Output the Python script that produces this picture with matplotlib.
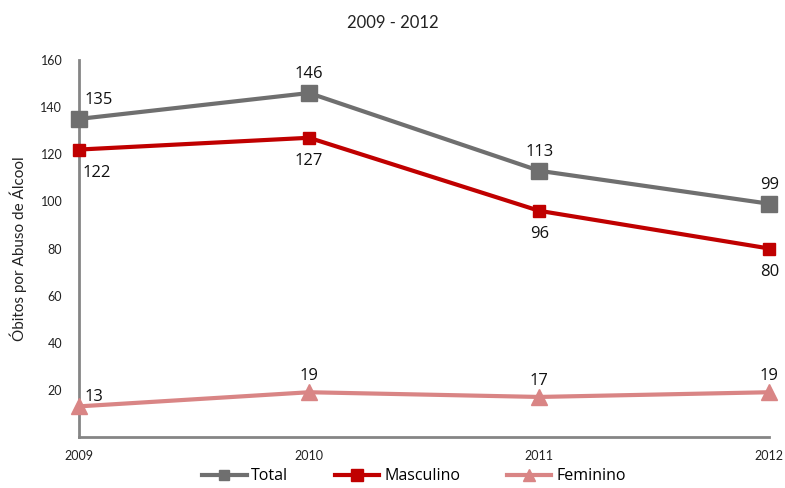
import matplotlib
matplotlib.use("Agg")
import matplotlib.pyplot as plt

years = [2009, 2010, 2011, 2012]
total = [135, 146, 113, 99]
masculino = [122, 127, 96, 80]
feminino = [13, 19, 17, 19]
y_ticks = [20, 40, 60, 80, 100, 120, 140, 160]

c_total = "#6f6f6f"
c_masc = "#c00000"
c_fem = "#d98585"

plt.rcParams["font.family"] = ["Lato", "DejaVu Sans"]

fig = plt.figure(figsize=(7.85, 4.88), dpi=100)
ax = fig.add_axes([0.1006, 0.1045, 0.8794, 0.7725])

x = list(range(len(years)))
ax.plot(x, total, color=c_total, lw=3, marker="s", ms=11, label="Total", zorder=3, clip_on=False)
ax.plot(x, masculino, color=c_masc, lw=3, marker="s", ms=8.5, label="Masculino", zorder=3, clip_on=False)
ax.plot(x, feminino, color=c_fem, lw=3, marker="^", ms=12, label="Feminino", zorder=3, clip_on=False)

lab_font = dict(fontsize=12, family=["Open Sans", "DejaVu Sans"], color="#111111")
for i, v in enumerate(total):
    if i == 0:
        ax.annotate(str(v), (i, v), xytext=(4, 8), textcoords="offset points",
                    ha="left", va="bottom", **lab_font)
    else:
        ax.annotate(str(v), (i, v), xytext=(0, 8), textcoords="offset points",
                    ha="center", va="bottom", **lab_font)
for i, v in enumerate(masculino):
    ax.annotate(str(v), (i, v), xytext=((13 if i == 0 else 0), -11), textcoords="offset points",
                ha="center", va="top", **lab_font)
for i, v in enumerate(feminino):
    if i == 0:
        ax.annotate(str(v), (i, v), xytext=(4, 1), textcoords="offset points",
                    ha="left", va="bottom", **lab_font)
    else:
        ax.annotate(str(v), (i, v), xytext=(0, 6), textcoords="offset points",
                    ha="center", va="bottom", **lab_font)

ax.set_xlim(0, len(years) - 1)
ax.set_ylim(0, 160)
ax.set_yticks(y_ticks)
ax.set_yticklabels([str(t) for t in y_ticks])
ax.set_xticks(x)
ax.set_xticklabels([str(y) for y in years])
ax.tick_params(axis="both", length=0, labelsize=9, colors="#222222")
ax.tick_params(axis="y", pad=12)
ax.tick_params(axis="x", pad=9)

for s in ["top", "right"]:
    ax.spines[s].set_visible(False)
for s in ["left", "bottom"]:
    ax.spines[s].set_color("#858585")
    ax.spines[s].set_linewidth(2)

ax.set_ylabel("Óbitos por Abuso de Álcool", fontsize=11, color="#222222", labelpad=10)
fig.suptitle("2009 - 2012", fontsize=12, y=0.97, color="#222222")

handles, labels = ax.get_legend_handles_labels()
leg = fig.legend(handles, labels, loc="lower center", ncol=3, frameon=False,
                 bbox_to_anchor=(0.527, -0.022), handlelength=2.8,
                 columnspacing=2.9, handletextpad=0.3,
                 prop={"family": ["Open Sans", "DejaVu Sans"], "size": 11.5})
for h, ms in zip(leg.legend_handles, [7, 9, 9]):
    h.set_markersize(ms)

fig.savefig("out.png", dpi=100)
